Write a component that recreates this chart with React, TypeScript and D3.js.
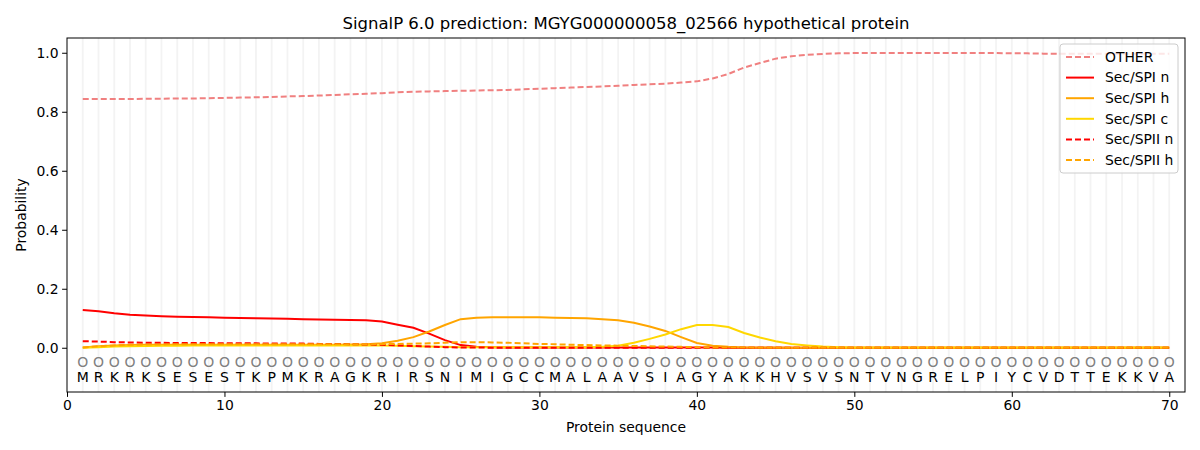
import React, { useEffect, useRef } from 'react';
import * as d3 from 'd3';

const sequence = 'MRKRKSESESTKPMKRAGKRIRSNIMIGCCMALAAVSIAGYAKKHVSVSNTVNGRELPIYCVDTTEKKVA'.split('');

const otherProb = [
  0.843, 0.843, 0.843, 0.843, 0.844, 0.844, 0.845, 0.845, 0.846, 0.847,
  0.848, 0.849, 0.850, 0.852, 0.853, 0.855, 0.857, 0.859, 0.861, 0.863,
  0.866, 0.868, 0.869, 0.870, 0.871, 0.872, 0.873, 0.874, 0.876, 0.878,
  0.880, 0.882, 0.884, 0.886, 0.888, 0.891, 0.893, 0.895, 0.899, 0.903,
  0.913, 0.928, 0.950, 0.965, 0.980, 0.988, 0.993, 0.996, 0.998, 0.999,
  0.999, 0.999, 0.999, 0.999, 0.999, 0.999, 0.999, 0.999, 0.999, 0.998,
  0.998, 0.997, 0.997, 0.997, 0.997, 0.997, 0.997, 0.997, 0.997, 0.997,
];

const spiN = [
  0.128, 0.124, 0.117, 0.112, 0.109, 0.107, 0.105, 0.104, 0.103, 0.102,
  0.101, 0.100, 0.099, 0.098, 0.097, 0.096, 0.095, 0.094, 0.093, 0.089,
  0.078, 0.068, 0.048, 0.026, 0.009, 0.003, 0.002, 0.001, 0.001, 0.001,
  0.001, 0.001, 0.001, 0.001, 0.001, 0.001, 0.001, 0.001, 0.001, 0.001,
  0.001, 0.000, 0.000, 0.000, 0.000, 0.000, 0.000, 0.000, 0.000, 0.000,
  0.000, 0.000, 0.000, 0.000, 0.000, 0.000, 0.000, 0.000, 0.000, 0.000,
  0.000, 0.000, 0.000, 0.000, 0.000, 0.000, 0.000, 0.000, 0.000, 0.000,
];

const spiH = [
  0.001, 0.005, 0.008, 0.009, 0.010, 0.010, 0.010, 0.010, 0.010, 0.010,
  0.010, 0.010, 0.010, 0.010, 0.010, 0.010, 0.010, 0.011, 0.012, 0.015,
  0.024, 0.036, 0.055, 0.077, 0.097, 0.102, 0.103, 0.103, 0.103, 0.103,
  0.102, 0.101, 0.100, 0.097, 0.093, 0.085, 0.072, 0.057, 0.036, 0.016,
  0.007, 0.003, 0.001, 0.001, 0.001, 0.000, 0.000, 0.000, 0.000, 0.000,
  0.000, 0.000, 0.000, 0.000, 0.000, 0.000, 0.000, 0.000, 0.000, 0.000,
  0.000, 0.000, 0.000, 0.000, 0.000, 0.000, 0.000, 0.000, 0.000, 0.000,
];

const spiC = [
  0.000, 0.002, 0.004, 0.005, 0.006, 0.007, 0.007, 0.008, 0.008, 0.008,
  0.008, 0.008, 0.008, 0.008, 0.008, 0.008, 0.008, 0.008, 0.008, 0.008,
  0.007, 0.005, 0.004, 0.003, 0.002, 0.002, 0.002, 0.002, 0.002, 0.002,
  0.002, 0.002, 0.002, 0.003, 0.007, 0.017, 0.030, 0.045, 0.063, 0.077,
  0.077, 0.070, 0.050, 0.035, 0.022, 0.013, 0.008, 0.004, 0.002, 0.001,
  0.001, 0.001, 0.001, 0.001, 0.001, 0.001, 0.001, 0.001, 0.001, 0.001,
  0.001, 0.001, 0.001, 0.001, 0.001, 0.001, 0.001, 0.001, 0.001, 0.001,
];

const spiiN = [
  0.022, 0.021, 0.019, 0.018, 0.017, 0.017, 0.016, 0.016, 0.016, 0.015,
  0.015, 0.015, 0.014, 0.014, 0.014, 0.013, 0.013, 0.012, 0.011, 0.010,
  0.008, 0.006, 0.004, 0.002, 0.001, 0.001, 0.000, 0.000, 0.000, 0.000,
  0.000, 0.000, 0.000, 0.000, 0.000, 0.000, 0.000, 0.000, 0.000, 0.000,
  0.000, 0.000, 0.000, 0.000, 0.000, 0.000, 0.000, 0.000, 0.000, 0.000,
  0.000, 0.000, 0.000, 0.000, 0.000, 0.000, 0.000, 0.000, 0.000, 0.000,
  0.000, 0.000, 0.000, 0.000, 0.000, 0.000, 0.000, 0.000, 0.000, 0.000,
];

const spiiH = [
  0.001, 0.005, 0.008, 0.010, 0.011, 0.011, 0.012, 0.012, 0.012, 0.012,
  0.012, 0.012, 0.012, 0.012, 0.012, 0.012, 0.012, 0.012, 0.012, 0.013,
  0.013, 0.014, 0.015, 0.017, 0.019, 0.019, 0.018, 0.017, 0.015, 0.013,
  0.012, 0.010, 0.009, 0.008, 0.007, 0.006, 0.005, 0.004, 0.003, 0.002,
  0.001, 0.001, 0.001, 0.000, 0.000, 0.000, 0.000, 0.000, 0.000, 0.000,
  0.000, 0.000, 0.000, 0.000, 0.000, 0.000, 0.000, 0.000, 0.000, 0.000,
  0.000, 0.000, 0.000, 0.000, 0.000, 0.000, 0.000, 0.000, 0.000, 0.000,
];

const xTicks = [0, 10, 20, 30, 40, 50, 60, 70];
const yTicks = [0.0, 0.2, 0.4, 0.6, 0.8, 1.0];

const series = [
  { name: 'OTHER', values: otherProb, color: '#f08080', dash: '6,3' },
  { name: 'Sec/SPI n', values: spiN, color: '#ff0000', dash: '' },
  { name: 'Sec/SPI h', values: spiH, color: '#ffa500', dash: '' },
  { name: 'Sec/SPI c', values: spiC, color: '#ffd700', dash: '' },
  { name: 'Sec/SPII n', values: spiiN, color: '#ff0000', dash: '6,3' },
  { name: 'Sec/SPII h', values: spiiH, color: '#ffa500', dash: '6,3' },
];

const FONT = '"DejaVu Sans", sans-serif';

export default function App() {
  const svgRef = useRef<SVGSVGElement>(null);

  useEffect(() => {
    document.body.style.margin = '0';
    if (!svgRef.current) return;
    const svg = d3.select(svgRef.current);
    svg.selectAll('*').remove();

    const width = 1200;
    const height = 450;
    const margin = { top: 38, right: 15, bottom: 58, left: 67 };
    const innerW = width - margin.left - margin.right;
    const innerH = height - margin.top - margin.bottom;

    const x = d3.scaleLinear().domain([0, 71]).range([0, innerW]);
    const y = d3.scaleLinear().domain([-0.15, 1.05]).range([innerH, 0]);

    svg.append('rect').attr('width', width).attr('height', height).attr('fill', '#fff');

    // title
    svg.append('text')
      .attr('x', margin.left + innerW / 2)
      .attr('y', 29)
      .attr('text-anchor', 'middle')
      .attr('font-family', FONT)
      .attr('font-size', '16.5px')
      .text('SignalP 6.0 prediction: MGYG000000058_02566 hypothetical protein');

    const g = svg.append('g').attr('transform', `translate(${margin.left},${margin.top})`);

    // residue grid
    g.selectAll('.grid')
      .data(sequence)
      .enter()
      .append('line')
      .attr('x1', (_, i) => x(i + 1))
      .attr('x2', (_, i) => x(i + 1))
      .attr('y1', 0)
      .attr('y2', innerH)
      .attr('stroke', '#eeeeee')
      .attr('stroke-opacity', 0.7)
      .attr('stroke-width', 1.8);

    // residue markers and letters
    g.selectAll('.circ')
      .data(sequence)
      .enter()
      .append('text')
      .attr('x', (_, i) => x(i + 1))
      .attr('y', y(-0.05))
      .attr('dy', '0.35em')
      .attr('text-anchor', 'middle')
      .attr('font-family', FONT)
      .attr('font-size', '14px')
      .attr('fill', '#808080')
      .text('O');

    g.selectAll('.aa')
      .data(sequence)
      .enter()
      .append('text')
      .attr('x', (_, i) => x(i + 1))
      .attr('y', y(-0.1))
      .attr('dy', '0.35em')
      .attr('text-anchor', 'middle')
      .attr('font-family', FONT)
      .attr('font-size', '14px')
      .attr('fill', '#000')
      .text((d) => d);

    // lines
    const line = d3.line<number>()
      .x((_, i) => x(i + 1))
      .y((d) => y(d));

    series.forEach((s) => {
      g.append('path')
        .datum(s.values)
        .attr('fill', 'none')
        .attr('stroke', s.color)
        .attr('stroke-width', 2)
        .attr('stroke-dasharray', s.dash || null)
        .attr('d', line);
    });

    // axes
    const xAxis = g.append('g')
      .attr('transform', `translate(0,${innerH})`)
      .call(d3.axisBottom(x).tickValues(xTicks).tickFormat(d3.format('d')).tickSize(4.9).tickPadding(3.5));
    const yAxis = g.append('g')
      .call(d3.axisLeft(y).tickValues(yTicks).tickFormat(d3.format('.1f')).tickSize(4.9).tickPadding(3.5));
    [xAxis, yAxis].forEach((a) => {
      a.select('.domain').remove();
      a.selectAll('text').attr('font-family', FONT).attr('font-size', '13.9px').attr('fill', '#000');
      a.selectAll('line').attr('stroke', '#000').attr('stroke-width', 1);
    });

    g.append('rect')
      .attr('width', innerW)
      .attr('height', innerH)
      .attr('fill', 'none')
      .attr('stroke', '#000')
      .attr('stroke-width', 1);

    // axis labels
    svg.append('text')
      .attr('x', margin.left + innerW / 2)
      .attr('y', 432)
      .attr('text-anchor', 'middle')
      .attr('font-family', FONT)
      .attr('font-size', '13.9px')
      .text('Protein sequence');

    svg.append('text')
      .attr('transform', `translate(26,${margin.top + innerH / 2}) rotate(-90)`)
      .attr('text-anchor', 'middle')
      .attr('font-family', FONT)
      .attr('font-size', '13.9px')
      .text('Probability');

    // legend
    const lg = svg.append('g').attr('transform', 'translate(1060,44)');
    lg.append('rect')
      .attr('width', 118)
      .attr('height', 129)
      .attr('rx', 3)
      .attr('fill', '#fff')
      .attr('fill-opacity', 0.8)
      .attr('stroke', '#cccccc');
    series.forEach((s, i) => {
      const yy = 13 + i * 20.6;
      lg.append('line')
        .attr('x1', 6)
        .attr('x2', 34)
        .attr('y1', yy)
        .attr('y2', yy)
        .attr('stroke', s.color)
        .attr('stroke-width', 2)
        .attr('stroke-dasharray', s.dash || null);
      lg.append('text')
        .attr('x', 45)
        .attr('y', yy)
        .attr('dy', '0.35em')
        .attr('font-family', FONT)
        .attr('font-size', '13.9px')
        .text(s.name);
    });
  }, []);

  return <svg ref={svgRef} width={1200} height={450} style={{ display: 'block' }} />;
}
